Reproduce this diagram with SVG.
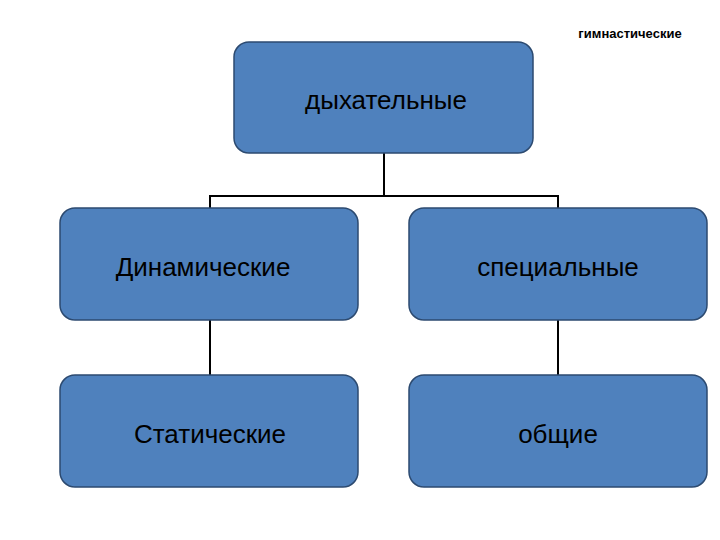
<svg xmlns="http://www.w3.org/2000/svg" width="720" height="540" viewBox="0 0 720 540">
<style>
.b{fill:#4f81bd;stroke:#2c4a70;stroke-width:1.5}
.t{font-family:"Liberation Sans",Arial,sans-serif;font-size:26px;fill:#000;text-anchor:middle}
.c{fill:none;stroke:#000;stroke-width:2}
</style>
<rect width="720" height="540" fill="#fff"/>
<text x="630" y="38" style="font-family:'Liberation Sans',Arial,sans-serif;font-size:13px;font-weight:bold;text-anchor:middle">гимнастические</text>
<g id="connectors">
<path class="c" d="M384 153V196M210 208V196H558V208M210 320V375M558 320V375"/>
</g>
<g id="n1"><rect class="b" x="234" y="42" width="299" height="111" rx="15"/><text class="t" x="386" y="109">дыхательные</text></g>
<g id="n2"><rect class="b" x="60" y="208" width="298" height="112" rx="15"/><text class="t" x="203" y="276">Динамические</text></g>
<g id="n3"><rect class="b" x="409" y="208" width="298" height="112" rx="15"/><text class="t" x="558" y="276">специальные</text></g>
<g id="n4"><rect class="b" x="60" y="375" width="298" height="112" rx="15"/><text class="t" x="210" y="443">Статические</text></g>
<g id="n5"><rect class="b" x="409" y="375" width="298" height="112" rx="15"/><text class="t" x="558" y="443">общие</text></g>
</svg>
